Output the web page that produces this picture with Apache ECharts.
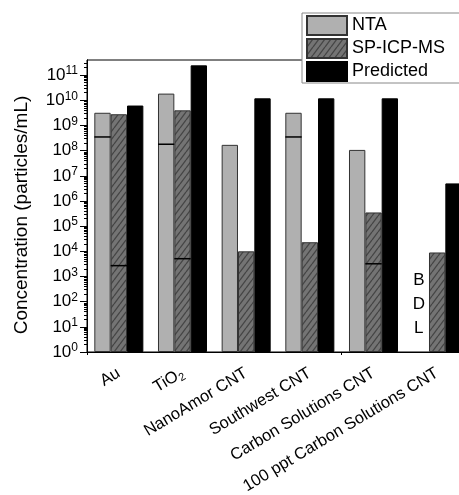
<!DOCTYPE html>
<html>
<head>
<meta charset="utf-8">
<script src="https://cdn.jsdelivr.net/npm/echarts@6/dist/echarts.min.js"></script>
<style>
  html, body { margin: 0; padding: 0; background: #fff; }
  #chart { width: 459px; height: 495px; }
</style>
</head>
<body>
<div id="chart"></div>
<script>
// categories and values (particles/mL)
var categories = ['Au', 'TiO2', 'NanoAmor CNT', 'Southwest CNT', 'Carbon Solutions CNT', '100 ppt Carbon Solutions CNT'];
var ntaValues = [3.2e9, 1.85e10, 1.7e8, 3.2e9, 1.07e8, null];
var spValues = [2.8e9, 4.0e9, 1.0e4, 2.3e4, 3.5e5, 9.0e3];
var predictedValues = [6.2e9, 2.45e11, 1.2e10, 1.2e10, 1.2e10, 5.0e6];
// horizontal lines drawn inside some bars
var ntaLines = [3.5e8, 1.8e8, null, 3.5e8, null, null];
var spLines = [2.7e3, 5.1e3, null, null, 3.2e3, null];
// y tick labels
var yTickValues = [1, 1e1, 1e2, 1e3, 1e4, 1e5, 1e6, 1e7, 1e8, 1e9, 1e10, 1e11];
var bdlIndex = 5;

var FONT = '"Liberation Sans", Arial, sans-serif';
var CAT_GAP = 0.23;

// minor log ticks 2..9 x 10^n
var minorTicks = [];
for (var n = 0; n < 12; n++) {
    for (var k = 2; k <= 9; k++) {
        var v = k * Math.pow(10, n);
        if (v < 4e11) minorTicks.push(v);
    }
}

// hatch pattern for SP-ICP-MS
var hatch = document.createElement('canvas');
hatch.width = 6;
hatch.height = 8;
var hc = hatch.getContext('2d');
hc.fillStyle = '#747474';
hc.fillRect(0, 0, 6, 8);
hc.strokeStyle = '#454545';
hc.lineWidth = 1.3;
hc.beginPath();
hc.moveTo(-6, 8); hc.lineTo(0, 0);
hc.moveTo(0, 8); hc.lineTo(6, 0);
hc.moveTo(6, 8); hc.lineTo(12, 0);
hc.stroke();

var lineData = [];
ntaLines.forEach(function (v, i) { if (v != null) lineData.push([i, v, 0]); });
spLines.forEach(function (v, i) { if (v != null) lineData.push([i, v, 1]); });

var chart = echarts.init(document.getElementById('chart'));

chart.setOption({
    animation: false,
    textStyle: { fontFamily: FONT, color: '#000' },
    grid: {
        left: 87, width: 382, top: 60, height: 292,
        outerBoundsMode: 'none',
        containLabel: false,
        show: true, borderColor: '#000', borderWidth: 1
    },
    legend: {
        data: ['NTA', 'SP-ICP-MS', 'Predicted'],
        orient: 'vertical',
        left: 302, top: 13,
        padding: [2, 40, 1, 4],
        itemWidth: 40, itemHeight: 19, itemGap: 2,
        icon: 'rect',
        backgroundColor: '#fff',
        borderColor: '#888', borderWidth: 1,
        textStyle: { fontSize: 18, lineHeight: 19, height: 19, fontFamily: FONT, color: '#000', padding: 0 }
    },
    xAxis: [{
        type: 'category',
        data: categories,
        axisLine: { lineStyle: { color: '#000' } },
        axisTick: { alignWithLabel: true, length: 6, lineStyle: { color: '#000' } },
        axisLabel: {
            interval: 0, rotate: 31, margin: 20, fontSize: 16, color: '#000',
            formatter: function (v) {
                return v === 'TiO2' ? '{a|TiO}{sub|2}' : '{a|' + v + '}';
            },
            rich: {
                a: { fontSize: 16.5, lineHeight: 20, fontFamily: FONT, color: '#000' },
                sub: { fontSize: 11, lineHeight: 11, verticalAlign: 'bottom', fontFamily: FONT, color: '#000' }
            }
        }
    }, {
        type: 'category',
        data: categories,
        position: 'bottom',
        axisLine: { show: true, lineStyle: { color: '#000' } },
        axisTick: { show: true, length: 3, lineStyle: { color: '#000' } },
        axisLabel: { show: false }
    }],
    yAxis: [{
        type: 'log',
        logBase: 10,
        min: 1, max: 4e11,
        name: 'Concentration (particles/mL)',
        nameLocation: 'middle',
        nameGap: 56,
        nameMoveOverlap: false,
        nameTextStyle: { fontSize: 19, color: '#000', fontFamily: FONT, padding: [0, 18, 0, 0] },
        axisLine: { show: true, lineStyle: { color: '#000' } },
        axisTick: { show: true, length: 7, customValues: yTickValues, lineStyle: { color: '#000' } },
        splitLine: { show: false },
        axisLabel: {
            margin: 9,
            customValues: yTickValues,
            formatter: function (v) {
                return '{b|10}{s|' + Math.round(Math.log10(v)) + '}';
            },
            rich: {
                b: { fontSize: 17, lineHeight: 20, fontFamily: FONT, color: '#000' },
                s: { fontSize: 12, lineHeight: 12, verticalAlign: 'top', fontFamily: FONT, color: '#000' }
            }
        }
    }, {
        type: 'log',
        logBase: 10,
        min: 1, max: 4e11,
        position: 'left',
        offset: 0,
        axisLine: { show: true, lineStyle: { color: '#000' } },
        axisTick: { show: true, length: 3, customValues: minorTicks, lineStyle: { color: '#000' } },
        axisLabel: { show: false },
        splitLine: { show: false }
    }],
    series: [{
        name: 'NTA',
        type: 'bar',
        data: ntaValues,
        barGap: 0,
        barCategoryGap: (CAT_GAP * 100) + '%',
        itemStyle: { color: '#b0b0b0', borderColor: '#333', borderWidth: 1 }
    }, {
        name: 'SP-ICP-MS',
        type: 'bar',
        data: spValues,
        barGap: 0,
        barCategoryGap: (CAT_GAP * 100) + '%',
        itemStyle: { color: { image: hatch, repeat: 'repeat' }, borderColor: '#333', borderWidth: 1 }
    }, {
        name: 'Predicted',
        type: 'bar',
        data: predictedValues,
        barGap: 0,
        barCategoryGap: (CAT_GAP * 100) + '%',
        itemStyle: { color: '#000', borderColor: '#000', borderWidth: 1 }
    }, {
        name: 'lines',
        type: 'custom',
        xAxisIndex: 1,
        yAxisIndex: 1,
        z: 5,
        data: lineData,
        renderItem: function (params, api) {
            var p = api.coord([api.value(0), api.value(1)]);
            var band = api.size([1, 0])[0];
            var w = band * (1 - CAT_GAP) / 3;
            var cx = p[0] + (api.value(2) - 1) * w;
            return {
                type: 'line',
                shape: { x1: cx - w / 2, y1: p[1], x2: cx + w / 2, y2: p[1] },
                style: { stroke: '#000', lineWidth: 1.5 }
            };
        }
    }, {
        name: 'bdl',
        type: 'custom',
        xAxisIndex: 1,
        yAxisIndex: 1,
        z: 5,
        data: [[bdlIndex, 80]],
        renderItem: function (params, api) {
            var p = api.coord([api.value(0), api.value(1)]);
            var band = api.size([1, 0])[0];
            var w = band * (1 - CAT_GAP) / 3;
            return {
                type: 'text',
                x: p[0] - w - 2, y: p[1],
                style: {
                    text: 'B\nD\nL', fontSize: 17, lineHeight: 24, fontFamily: FONT,
                    fill: '#000', align: 'center', verticalAlign: 'middle'
                }
            };
        }
    }]
});
</script>
</body>
</html>
